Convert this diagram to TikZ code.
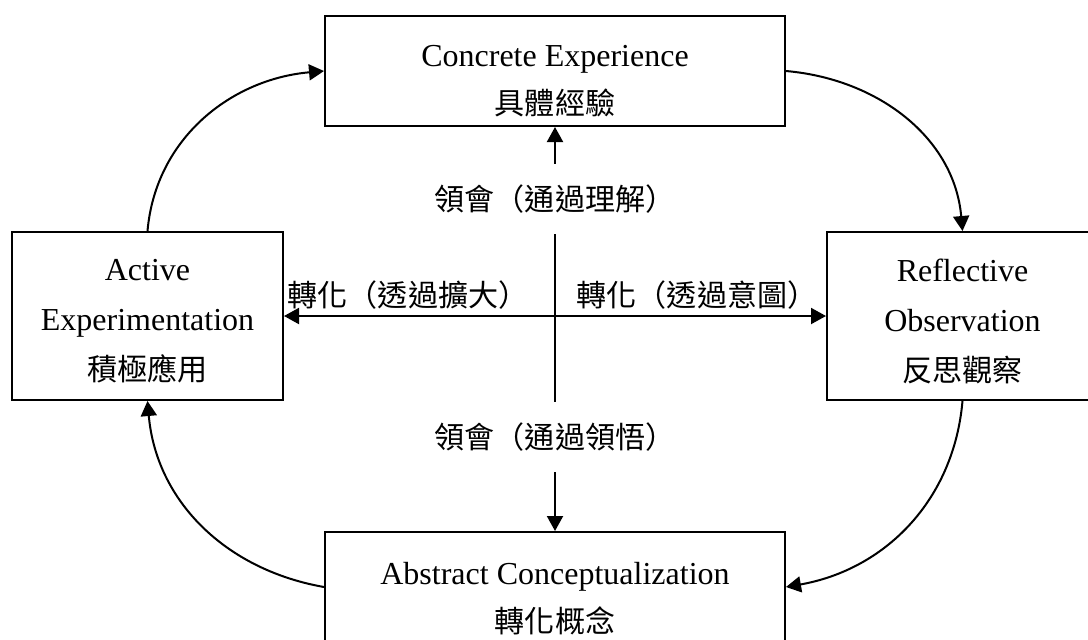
\documentclass[tikz,border=0pt]{standalone}
\usepackage{fontspec}
\setmainfont{Liberation Serif}
\newfontfamily\cjk[Scale=0.94]{Noto Sans CJK TC}
\usetikzlibrary{arrows.meta}

\begin{document}
\begin{tikzpicture}[x=0.5pt,y=0.5pt,line width=1pt,
    stagebox/.style={draw,rectangle,inner sep=0pt},
    stagetext/.style={align=center,inner sep=0pt,font=\fontsize{16pt}{25pt}\selectfont},
    cyclearrow/.style={-{Triangle[length=7.5pt,width=8pt]}},
    modelabel/.style={font=\cjk\fontsize{16pt}{20pt}\selectfont,inner xsep=2pt,inner ysep=10pt}]
    \useasboundingbox (0,0) rectangle (1088,-639);
    \node[stagebox,minimum width=230pt,minimum height=55pt,
      label={[stagetext,yshift=-5pt]center:{Concrete Experience\\[-1pt]{\cjk 具體經驗}}}] (ce) at (555,-71) {};
    \node[stagebox,minimum width=135.5pt,minimum height=84pt,
      label={[stagetext,yshift=-2.5pt]center:{Active\\Experimentation\\{\cjk 積極應用}}}] (ae) at (147.5,-316) {};
    \node[stagebox,minimum width=135.5pt,minimum height=84pt,
      label={[stagetext,yshift=-2.5pt]center:{Reflective\\Observation\\{\cjk 反思觀察}}}] (ro) at (962.5,-316) {};
    \node[stagebox,minimum width=230pt,minimum height=55pt,
      label={[stagetext,yshift=-6pt]center:{Abstract Conceptualization\\[-1pt]{\cjk 轉化概念}}}] (ac) at (555,-587) {};
    \node[modelabel] (up) at (555,-199) {領會（通過理解）};
    \node[modelabel] (down) at (555,-437) {領會（通過領悟）};
    \node[modelabel] (extend) at (408,-295) {轉化（透過擴大）};
    \node[modelabel] (intend) at (697,-295) {轉化（透過意圖）};
    \draw[cyclearrow] (up) -- (ce);
    \draw (up) -- (down);
    \draw[cyclearrow] (down) -- (ac);
    \draw[{Triangle[length=7.5pt,width=8pt]}-{Triangle[length=7.5pt,width=8pt]}] (ae) -- (ro);
    \draw[cyclearrow] (ae.north) to[out=85,in=185] (ce.west);
    \draw[cyclearrow] (ce.east) to[out=-5,in=95] (ro.north);
    \draw[cyclearrow] (ro.south) to[out=-95,in=10] (ac.east);
    \draw[cyclearrow] (ac.west) to[out=170,in=-85] (ae.south);
\end{tikzpicture}
\end{document}
